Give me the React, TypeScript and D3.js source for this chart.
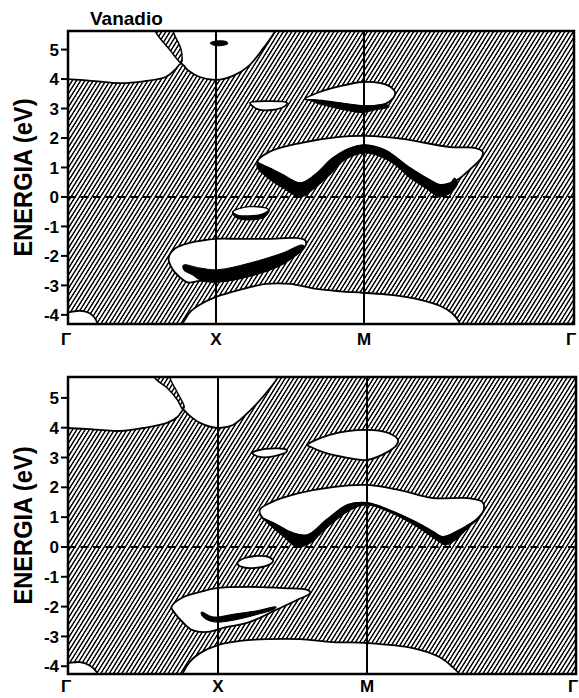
import React from "react";
import * as d3 from "d3";

type P = [number, number];

// ---------- shared axis data ----------
const kPoints = [0, 1, 2, 3.414];
const kLabels = ["Γ", "X", "M", "Γ"];
const energyTicks = [-4, -3, -2, -1, 0, 1, 2, 3, 4, 5];
const titleText = "Vanadio";
const yTitle = "ENERGIA (eV)";

// ---------- top panel (k, E) ----------
const topUpperEdge: P[] = [[-0.1, 4.0], [0, 4.0], [0.18, 3.93], [0.35, 3.86], [0.52, 3.93], [0.66, 4.07], [0.72, 4.3], [0.765, 4.52], [0.81, 4.3], [0.89, 4.07], [1.0, 3.97], [1.11, 4.1], [1.22, 4.44], [1.31, 4.98], [1.4, 5.63], [1.42, 5.9]];
const topUpperOut: P[] = [[1.45, 6.5], [-0.2, 6.5]];
const topSliver: P[] = [[0.59, 5.9], [0.59, 5.63], [0.69, 4.98], [0.765, 4.55], [0.765, 4.98], [0.71, 5.63], [0.71, 5.9]];
const topFlag: P[] = [[0.96, 5.22], [1.0, 5.29], [1.07, 5.27], [1.08, 5.2], [1.0, 5.13]];
const topLens3: P[] = [[1.23, 3.19], [1.34, 3.25], [1.48, 3.19], [1.47, 3.1], [1.38, 2.95], [1.28, 2.98]];
const topMBlob: P[] = [[1.6, 3.32], [1.7, 3.56], [1.84, 3.76], [1.99, 3.9], [2.11, 3.86], [2.18, 3.73], [2.21, 3.53], [2.19, 3.32], [2.14, 3.15], [2.04, 3.08], [1.99, 3.08], [1.87, 3.15], [1.74, 3.25], [1.64, 3.29]];
const topMBand: P[] = [[1.64, 3.3], [1.74, 3.24], [1.87, 3.17], [1.99, 3.1], [2.07, 3.1], [2.15, 3.14], [2.17, 3.06], [2.07, 2.95], [1.99, 2.86], [1.87, 2.95], [1.74, 3.1], [1.66, 3.22]];
const topWGap: P[] = [[1.28, 1.19], [1.36, 1.53], [1.57, 1.83], [1.82, 2.03], [2.01, 2.07], [2.26, 1.97], [2.58, 1.69], [2.75, 1.66], [2.8, 1.53], [2.79, 1.32], [2.71, 0.92], [2.63, 0.58], [2.58, 0.47], [2.51, 0.41], [2.44, 0.58], [2.31, 0.98], [2.14, 1.59], [2.01, 1.76], [1.91, 1.66], [1.79, 1.32], [1.67, 0.75], [1.57, 0.47], [1.45, 0.75], [1.36, 0.98]];
const topWBand: P[] = [[1.28, 1.15], [1.36, 0.98], [1.45, 0.75], [1.57, 0.47], [1.67, 0.75], [1.79, 1.32], [1.91, 1.66], [2.01, 1.76], [2.14, 1.59], [2.31, 0.98], [2.44, 0.58], [2.51, 0.41], [2.58, 0.47], [2.61, 0.64], [2.63, 0.47], [2.59, 0.17], [2.51, 0.0], [2.41, 0.31], [2.31, 0.64], [2.18, 1.19], [2.01, 1.49], [1.87, 1.25], [1.79, 0.85], [1.67, 0.31], [1.57, 0.0], [1.45, 0.31], [1.35, 0.64], [1.28, 0.98]];
const topLensNegOuter: P[] = [[1.11, -0.51], [1.2, -0.34], [1.31, -0.34], [1.36, -0.44], [1.33, -0.68], [1.23, -0.78], [1.14, -0.71]];
const topLensNegInner: P[] = [[1.12, -0.51], [1.2, -0.37], [1.3, -0.37], [1.35, -0.44], [1.31, -0.56], [1.22, -0.62], [1.15, -0.6]];
const topLowGap: P[] = [[0.68, -2.07], [0.72, -1.76], [0.82, -1.56], [0.93, -1.46], [1.0, -1.42], [1.16, -1.42], [1.36, -1.42], [1.53, -1.39], [1.6, -1.46], [1.61, -1.56], [1.6, -1.69], [1.45, -2.27], [1.23, -2.68], [1.01, -2.88], [0.89, -2.85], [0.81, -2.9], [0.75, -2.7], [0.7, -2.4]];
const topLowBand: P[] = [[0.78, -2.31], [0.89, -2.41], [1.01, -2.47], [1.23, -2.24], [1.45, -1.9], [1.58, -1.63], [1.6, -1.69], [1.45, -2.27], [1.23, -2.68], [1.01, -2.88], [0.89, -2.81], [0.84, -2.64], [0.78, -2.47]];
const topBottomEdge: P[] = [[0.75, -4.6], [0.76, -4.31], [0.78, -4.24], [0.82, -3.93], [0.89, -3.66], [1.0, -3.39], [1.16, -3.15], [1.34, -2.95], [1.5, -2.95], [1.68, -3.12], [1.84, -3.2], [1.99, -3.25], [2.18, -3.32], [2.38, -3.49], [2.51, -3.69], [2.59, -3.93], [2.64, -4.24], [2.66, -4.6]];
const topBottomOut: P[] = [[2.66, -5], [0.75, -5]];
const topGammaEdge: P[] = [[-0.05, -3.93], [0.0, -3.92], [0.08, -3.86], [0.14, -3.93], [0.18, -4.1], [0.2, -4.31], [0.21, -4.6]];
const topGammaOut: P[] = [[0.21, -5], [-0.05, -5]];

// ---------- bottom panel (k, E) ----------
const botUpperEdge: P[] = [[-0.1, 3.99], [0, 3.99], [0.21, 3.93], [0.35, 3.89], [0.5, 3.99], [0.66, 4.16], [0.73, 4.36], [0.77, 4.6], [0.8, 4.45], [0.88, 4.16], [1.0, 3.99], [1.1, 4.09], [1.22, 4.6], [1.3, 5.03], [1.4, 5.67], [1.42, 5.9]];
const botUpperOut: P[] = [[1.45, 6.5], [-0.2, 6.5]];
const botSliver: P[] = [[0.58, 5.9], [0.58, 5.67], [0.66, 5.34], [0.73, 4.93], [0.765, 4.62], [0.775, 4.7], [0.73, 5.17], [0.68, 5.67], [0.68, 5.9]];
const botLens3: P[] = [[1.23, 3.15], [1.32, 3.29], [1.46, 3.26], [1.46, 3.19], [1.38, 3.05], [1.28, 3.02]];
const botMBlob: P[] = [[1.6, 3.42], [1.75, 3.76], [2.0, 3.93], [2.14, 3.83], [2.21, 3.59], [2.2, 3.42], [2.14, 3.19], [2.0, 2.92], [1.87, 2.99], [1.7, 3.19], [1.62, 3.36]];
const botWGap: P[] = [[1.28, 1.24], [1.35, 1.48], [1.55, 1.81], [1.77, 2.01], [2.0, 2.08], [2.22, 1.91], [2.45, 1.64], [2.68, 1.64], [2.78, 1.51], [2.79, 1.24], [2.75, 0.97], [2.71, 0.81], [2.6, 0.5], [2.51, 0.34], [2.45, 0.5], [2.34, 0.81], [2.15, 1.24], [2.0, 1.48], [1.87, 1.41], [1.73, 0.91], [1.6, 0.4], [1.5, 0.47], [1.37, 0.81], [1.3, 0.97]];
const botWBand: P[] = [[1.3, 0.97], [1.37, 0.81], [1.5, 0.47], [1.6, 0.4], [1.73, 0.91], [1.87, 1.41], [2.0, 1.48], [2.15, 1.24], [2.34, 0.81], [2.45, 0.5], [2.51, 0.34], [2.6, 0.5], [2.71, 0.81], [2.75, 0.91], [2.69, 0.67], [2.6, 0.23], [2.53, 0.07], [2.47, 0.23], [2.34, 0.67], [2.15, 1.17], [2.0, 1.41], [1.89, 1.24], [1.73, 0.64], [1.62, 0.13], [1.53, 0.0], [1.44, 0.34], [1.33, 0.81]];
const botLensNeg: P[] = [[1.13, -0.54], [1.18, -0.37], [1.27, -0.3], [1.34, -0.34], [1.37, -0.47], [1.34, -0.6], [1.25, -0.7], [1.16, -0.67]];
const botLowGap: P[] = [[0.69, -2.01], [0.77, -1.68], [0.88, -1.51], [0.99, -1.38], [1.21, -1.34], [1.44, -1.38], [1.6, -1.44], [1.62, -1.54], [1.53, -1.78], [1.39, -2.11], [1.21, -2.52], [1.03, -2.72], [0.93, -2.85], [0.83, -2.79], [0.77, -2.55], [0.71, -2.21]];
const botLowBand: P[] = [[0.89, -2.18], [0.95, -2.32], [0.99, -2.35], [1.11, -2.25], [1.25, -2.15], [1.39, -2.01], [1.38, -2.08], [1.25, -2.28], [1.11, -2.45], [0.99, -2.52], [0.93, -2.45], [0.89, -2.28]];
const botBottomEdge: P[] = [[0.75, -4.6], [0.75, -4.46], [0.77, -4.19], [0.81, -3.86], [0.88, -3.56], [1.0, -3.29], [1.15, -3.15], [1.33, -3.09], [1.55, -3.09], [1.77, -3.19], [2.0, -3.22], [2.31, -3.39], [2.49, -3.69], [2.58, -4.03], [2.63, -4.3], [2.64, -4.6]];
const botBottomOut: P[] = [[2.64, -5], [0.75, -5]];
const botGammaEdge: P[] = [[-0.05, -3.93], [0.0, -3.9], [0.08, -3.86], [0.15, -3.99], [0.19, -4.19], [0.2, -4.46], [0.2, -4.6]];
const botGammaOut: P[] = [[0.2, -5], [-0.05, -5]];

type Panel = {
  id: string;
  xr: number[];
  top: number;
  bottom: number;
  eDomain: [number, number];
  labelY: number;
  edges: { pts: P[]; out: P[] }[];
  gaps: P[][];
  slivers: P[][];
  bands: P[][];
  whiteOver: P[][];
};

const panels: Panel[] = [
  {
    id: "a",
    xr: [68, 216, 364, 574],
    top: 31,
    bottom: 324,
    eDomain: [-4.31, 5.63],
    labelY: 345,
    edges: [
      { pts: topUpperEdge, out: topUpperOut },
      { pts: topBottomEdge, out: topBottomOut },
      { pts: topGammaEdge, out: topGammaOut },
    ],
    gaps: [topLens3, topMBlob, topWGap, topLowGap],
    slivers: [topSliver],
    bands: [topFlag, topMBand, topWBand, topLowBand, topLensNegOuter],
    whiteOver: [topLensNegInner],
  },
  {
    id: "b",
    xr: [68, 218, 367, 576],
    top: 377,
    bottom: 674,
    eDomain: [-4.26, 5.7],
    labelY: 692,
    edges: [
      { pts: botUpperEdge, out: botUpperOut },
      { pts: botBottomEdge, out: botBottomOut },
      { pts: botGammaEdge, out: botGammaOut },
    ],
    gaps: [botLens3, botMBlob, botWGap, botLowGap, botLensNeg],
    slivers: [botSliver],
    bands: [botWBand, botLowBand],
    whiteOver: [],
  },
];

const FONT = "'Liberation Sans', Arial, Helvetica, sans-serif";

function PanelView({ p }: { p: Panel }) {
  const xs = d3.scaleLinear().domain(kPoints).range(p.xr);
  const ys = d3.scaleLinear().domain(p.eDomain).range([p.bottom, p.top]);
  const closed = d3
    .line<P>()
    .x((d) => xs(d[0]))
    .y((d) => ys(d[1]))
    .curve(d3.curveCatmullRomClosed.alpha(0.5));
  const open = d3
    .line<P>()
    .x((d) => xs(d[0]))
    .y((d) => ys(d[1]))
    .curve(d3.curveCatmullRom.alpha(0.5));
  const edgeD = (pts: P[], out: P[]) =>
    (open(pts) || "") + out.map((q) => `L${xs(q[0])},${ys(q[1])}`).join("") + "Z";
  const x0 = p.xr[0];
  const x1 = p.xr[3];
  const clipId = `clip-${p.id}`;
  return (
    <g>
      <defs>
        <clipPath id={clipId}>
          <rect x={x0} y={p.top} width={x1 - x0} height={p.bottom - p.top} />
        </clipPath>
      </defs>
      <g clipPath={`url(#${clipId})`}>
        <rect x={x0} y={p.top} width={x1 - x0} height={p.bottom - p.top} fill="url(#hatch)" />
        {p.edges.map((e, i) => (
          <path key={"e" + i} d={edgeD(e.pts, e.out)} fill="#fff" stroke="#000" strokeWidth={1.8} />
        ))}
        {p.gaps.map((g, i) => (
          <path key={"g" + i} d={closed(g) || ""} fill="#fff" stroke="#000" strokeWidth={1.8} />
        ))}
        {p.slivers.map((g, i) => (
          <path key={"s" + i} d={closed(g) || ""} fill="url(#hatch)" stroke="#000" strokeWidth={1.5} />
        ))}
        {p.bands.map((g, i) => (
          <path key={"b" + i} d={closed(g) || ""} fill="#000" stroke="#000" strokeWidth={1} />
        ))}
        {p.whiteOver.map((g, i) => (
          <path key={"w" + i} d={closed(g) || ""} fill="#fff" />
        ))}
        <line x1={x0} x2={x1} y1={ys(0)} y2={ys(0)} stroke="#000" strokeWidth={2} strokeDasharray="8 4.5" />
        {[1, 2].map((i) => (
          <line key={"v" + i} x1={xs(kPoints[i])} x2={xs(kPoints[i])} y1={p.top} y2={p.bottom} stroke="#000" strokeWidth={2} />
        ))}
      </g>
      <rect x={x0} y={p.top} width={x1 - x0} height={p.bottom - p.top} fill="none" stroke="#000" strokeWidth={2.5} />
      {energyTicks.map((t) => (
        <g key={"t" + t}>
          <line x1={x0 - 7} x2={x0} y1={ys(t)} y2={ys(t)} stroke="#000" strokeWidth={2} />
          <text
            x={x0 - 9}
            y={ys(t)}
            dy="0.36em"
            textAnchor="end"
            fontFamily={FONT}
            fontWeight="bold"
            fontSize={17}
          >
            {t < 0 ? "-" + Math.abs(t) : String(t)}
          </text>
        </g>
      ))}
      {kLabels.map((l, i) => (
        <text
          key={"k" + i}
          x={xs(kPoints[i]) - (i === 0 ? 2 : i === 3 ? 3 : 0)}
          y={p.labelY}
          textAnchor="middle"
          fontFamily={FONT}
          fontWeight="bold"
          fontSize={17}
        >
          {l}
        </text>
      ))}
      <text
        transform={`translate(32,${(p.top + p.bottom) / 2}) rotate(-90)`}
        textAnchor="middle"
        fontFamily={FONT}
        fontWeight="bold"
        fontSize={25}
        textLength={158}
        lengthAdjust="spacingAndGlyphs"
      >
        {yTitle}
      </text>
    </g>
  );
}

export default function App() {
  return (
    <svg
      width={579}
      height={698}
      viewBox="0 0 579 698"
      style={{ position: "absolute", left: 0, top: 0, background: "#fff" }}
    >
      <defs>
        <pattern id="hatch" patternUnits="userSpaceOnUse" width={4.2} height={8} patternTransform="skewX(-32)">
          <rect x={0} y={0} width={4.2} height={8} fill="#fff" />
          <rect x={0} y={0} width={1.7} height={8} fill="#000" />
        </pattern>
      </defs>
      <rect x={0} y={0} width={579} height={698} fill="#fff" />
      <text x={90} y={25} fontFamily={FONT} fontWeight="bold" fontSize={19}>
        {titleText}
      </text>
      {panels.map((p) => (
        <PanelView key={p.id} p={p} />
      ))}
    </svg>
  );
}
